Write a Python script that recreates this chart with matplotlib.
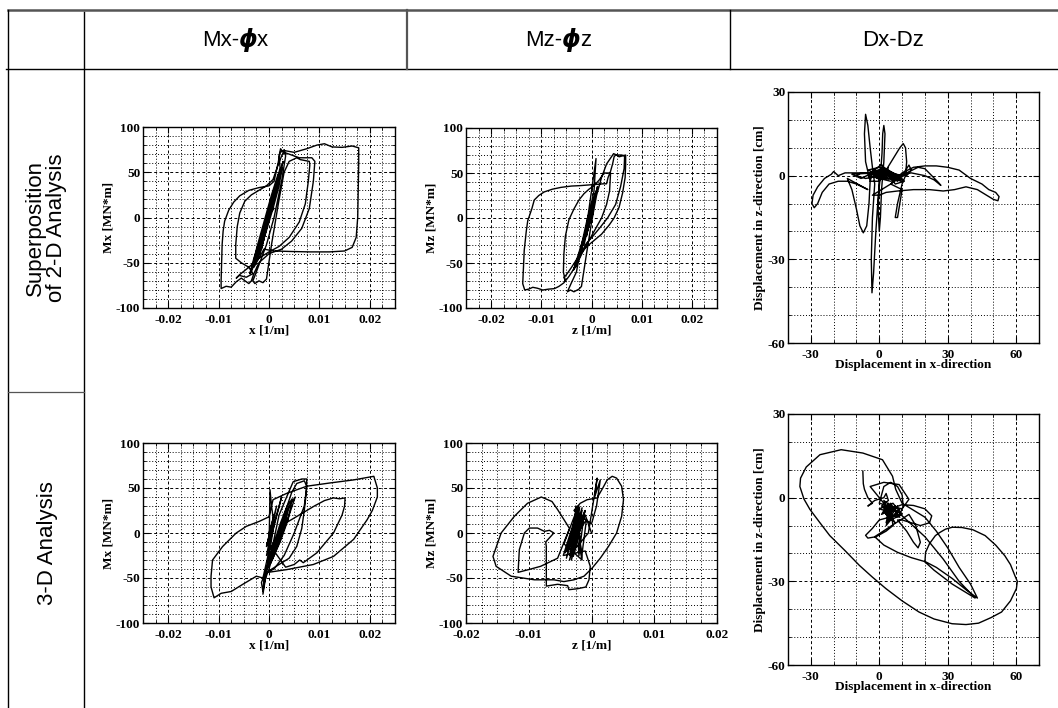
import numpy as np
import matplotlib.pyplot as plt
from matplotlib.ticker import MultipleLocator, FuncFormatter

plt.rcParams['axes.unicode_minus'] = False

# ---- data ----
# curvature values are given in 1e-3 [1/m], moments in MN*m
mx2d_x = [0, 1.0, -0.8, 1.5, -1.2, 2.0, -1.8, 1.2, -1.5, 2.2, 2.0, 2.3, 2.8, 3.0, 3.3,
          2.5, 1.0, -0.5, -1.5, -2.5, -3.2, -2.8, -2.0, -1.2, -0.5, 0.5, 2.0, 3.0, 4.0,
          5.5, 6.2, 8.0, 8.1, 7.8, 7.2, 6.0, 4.0, 2.0, 0.0, -2.0, -4.0, -5.8, -6.5,
          -5.9, -4.5, -3.2, -4.0, -5.5, -6.6, -6.6, -6.3, -5.8, -4.8, -3.5, -2.0, -0.5,
          0.8, 1.8, 2.5, 3.0, 4.0, 6.0, 8.5, 9.1, 8.8, 8.0, 6.5, 4.5, 2.5, 0.0, -2.0,
          -3.0, -3.5, -4.0, -5.5, -6.5, -7.5, -8.5, -9.5, -9.5, -9.4, -9.3, -9.1, -8.8,
          -8.0, -7.0, -5.8, -4.0, -2.0, 0.0, 1.0, 1.8, 2.2, 3.0, 5.0, 7.5, 9.5, 11.0,
          12.5, 14.5, 16.5, 17.8, 17.8, 17.7, 17.6, 17.3, 16.5, 15.0, 12.0, 8.0, 4.0,
          1.0, -1.0, -3.0, -2.0, 0.0, 1.5, 2.6, 2.0, 0.8, -0.8, -2.5, -3.5, -2.5, -1.0,
          0.5, 1.8, 1.2, 0.0, -1.5, -2.8, -1.8, -0.3, 1.0, 2.2, 1.5, 0.2, -1.2, -2.2,
          -1.3, 0.2, 1.4, 2.8, 2.0, 0.5, -1.8, -3.8, -3.0, -1.2, 0.6, 1.9, 1.0, -0.5,
          -2.0, -1.0, 0.3, 1.0]
mx2d_y = [0, 22, -18, 35, -28, 48, -40, 30, -35, 55, 68, 76, 72, 75, 68,
          40, 0, -30, -45, -60, -70, -73, -70, -72, -68, -30, 20, 50, 62,
          66, 64, 62, 58, 40, 15, -5, -22, -32, -38, -45, -55, -63, -67,
          -64, -66, -62, -55, -50, -45, -30, -10, 5, 18, 25, 30, 35,
          42, 58, 68, 72, 70, 66, 66, 62, 40, 10, -12, -26, -35, -40, -50,
          -62, -70, -73, -67, -71, -77, -76, -78.5, -70, -50, -30, -15, -4,
          8, 17, 24, 30, 33, 35, 40, 60, 72, 74, 72, 76, 80, 81.5,
          78, 77.5, 79, 77, 60, 30, 0, -22, -33, -37, -38, -38, -37.5,
          -37, -35, -55, -30, 0, 30, 55, 35, 10, -20, -45, -60, -35, -5,
          25, 48, 28, 0, -30, -52, -25, 5, 30, 52, 30, 5, -25, -45,
          -20, 10, 35, 62, 45, 15, -30, -62, -45, -15, 20, 45, 25, -10,
          -40, -20, 5, 10]

mz2d_x = [0, 0.8, -1.0, 1.2, -1.5, 0.9, 0.5, -2.0, 0.3, -2.5, -3.0, -4.0, -4.8,
          -4.2, -3.5, -2.5, -2.0, -1.0, 0.0, 1.0, 2.0, 3.0, 4.4, 5.0, 5.5, 6.8,
          6.8, 6.7, 6.2, 5.5, 4.5, 3.5, 2.0, 0.5, -1.0, -2.5, -4.0, -5.0, -5.5,
          -5.2, -5.6, -5.5, -5.2, -4.5, -3.5, -2.5, -1.5, -0.5, 0.5, 1.5, 2.5,
          3.8, 3.6, 3.0, 2.0, 1.0, 0.0, -1.5, -3.0, -4.5, -5.5, -6.5, -7.4, -8.5,
          -9.7, -10.8, -11.7, -12.5, -13.3, -13.7, -13.6, -13.4, -13.0, -12.7,
          -11.9, -11.4, -10.5, -9.4, -7.8, -6.1, -4.0, -2.2, 0.0, 2.4, 3.0, 3.3,
          3.8, 4.2, 4.5, 4.8, 6.0, 6.6, 6.5, 5.8, 4.8, 3.2, 1.5, 0.0, -1.0,
          -2.0, -3.2, -2.2, -0.8, 0.4, 0.9, 0.2, -1.0, -2.4, -3.6, -2.6, -1.2, 0.0,
          0.7, 0.1, -1.4, -2.8, -1.9, -0.6, 0.6, -0.3, -1.8, -3.0, -2.0, -0.5, 0.5,
          -0.6, -2.2, -3.4, -1.5, 0.2, 0.8, -0.8, -2.6, -1.2, 0.3]
mz2d_y = [0, 25, -20, 35, -30, 66, 30, -35, 20, -45, -60, -72, -82,
          -80, -82, -79, -76, -40, -5, 25, 45, 60, 71.5, 70, 68, 70,
          60, 45, 28, 12, 0, -8, -18, -25, -32, -42, -55, -63, -66,
          -70, -60, -40, -20, -2, 10, 20, 27, 32, 36, 42, 50,
          50, 30, 15, 0, -10, -20, -35, -52, -65, -72, -76, -78.5, -79,
          -80, -78, -77, -79, -80, -73, -60, -36, -15, -3,
          10, 20, 25, 29, 32, 34, 35.5, 36, 37, 38, 38, 45,
          52, 60, 68, 70, 70, 69, 55, 35, 15, 0, -12, -22, -28,
          -38, -55, -35, -10, 15, 30, 12, -15, -40, -58, -40, -15, 5,
          25, 8, -20, -48, -30, -5, 20, 2, -30, -52, -35, -8, 15,
          -5, -38, -56, -25, 10, 28, 0, -45, -20, 5]

dxdz2d_x = [0, 2, -1, 3, -2, 4, 1, -3, -4, -6, -6.5, -6, -5, -4, -3, -2, -3, -3.5,
            -3.2, -2.5, -1.5, -0.5, 0.5, 1.2, 1.5, 2, 2.5, 2, 1, 0.5, 0, -0.5, 0,
            -5, -10, -15, -18, -20, -21, -24, -27, -29, -29.5, -28.5, -27, -25, -22,
            -18, -14, -10, -5, -14, -12, -10, -8.5, -7, -5.5, -4.5, -4, 0, 3, 6, 9,
            10.5, 11.5, 12, 11.5, 10, 8, 7, 8, 9, 10, 5, 10, 15, 20, 25, 30, 35,
            40, 45, 48, 51, 52.5, 52, 50, 47, 43, 38, 33, 28, 22, 15, 8, 3, 0, -3,
            5, 12, 17, 20, 23, 26, 27, 24, 20, 14, 8, 10, 13, 14, 12, 2, 6, 3, 8,
            4, 9, 5, -2, 0, 4, 2, 7, 10, 5, -8, -10, -6, 1, -5, 0, 5, 10, 5, 0,
            -5, 3, 8, -2, -12, -8, 2, 6, 11, 7, 1, -4, 4, 9, 3, -1]
dxdz2d_y = [0, 1, -1, 2, 0, -1, 2, 1, -2, 5, 15, 22, 18, 10, 3, -3, -15, -30,
            -42, -35, -20, -8, 0, 8, 15, 18, 15, 5, -5, -15, -20, -12, 0,
            1, 1, 1, 0, 1.5, 0.5, -1, -4, -7, -10, -11.5, -10, -6, -3,
            -2, -2, -3, -5, -1, -5, -12, -18, -20.5, -18, -10, -2, -2, 2, 6, 10,
            11.5, 10, 5, 0, -3, -10, -15, -15, -10, -5, -3, 1, 3, 3.5, 3.5, 3, 2,
            -1, -3, -5, -6, -7.5, -9, -8.5, -7, -5, -4, -5, -5.5, -5, -5, -5.5, -6, -7, -7,
            -3, 1, 3, 2.5, 0, -2.5, -3.5, -1.5, 0, 1, 0, 0, 3.8, 2, 0, 1, -1, 2, -2,
            0, -1, 1, 2, -2, 3, -1, -1.5, -2, 0, 1, 0, -1, 0, 2, 3, 1, -1, -2, -1,
            0, 2, 0, 1, 0.5, -1, 3, 1, -2, -3, 4, 1, -1, 0, 2, 1]

mx3d_x = [0, 1, -0.5, 1.5, -0.5, 2.5, 0, 0, 0.2, 0.5, 1, -1.2, -1.0, 0.5, 2, 3.5,
          4.8, 6.5, 7.5, 7.4, 7, 6.5, 5.5, 4, 2, 0, -1, -1.5, -1.2, -0.8, 0, 1.5,
          3, 4.5, 5.5, 7, 7.5, 7, 5, 3, 1, -0.5, -1.2, -2.5, -5.2, -7.5, -9.5,
          -10.9, -11.5, -11.5, -11.2, -9.2, -6.5, -4.5, -1.9, 0, 0.8, 3.5, 7.5, 12.1,
          16.8, 20.8, 21.5, 21.5, 20.5, 19.5, 16.8, 12.8, 8.8, 3.5, -0.5, -1.2, 0,
          3, 6, 9, 11, 12.8, 14, 15.1, 15, 14.5, 12.8, 9.5, 6.8, 6.1, 5, 3.3, 1,
          2.5, 4, 3.2, 1.5, 0, -0.8, 0.5, 2.2, 3.6, 4.6, 3.8, 2.2, 0.6, -0.4, 1.0,
          2.8, 4.2, 5.2, 4.0, 2.4, 0.8, 0.2, 1.8, 3.4, 2.6, 1.2, 0.2, 2.0, 3.0]
mx3d_y = [0, 20, -15, 30, -25, 40, -10, -20, 48, 30, 10, -68, -50, -20, 20, 40,
          57, 60, 60, 45, 25, 5, -15, -28, -35, -42, -48, -55, -65, -52, -40, -10,
          20, 45, 55, 58, 52, 30, 0, -25, -40, -44, -50, -48, -57, -65, -67,
          -72, -60, -48, -30, -15, 0, 7.4, 13, 18, 37, 44, 52, 55.6,
          59, 63, 50, 40, 25, 15, -7, -26, -35, -40.7, -44, -50, -20,
          10, 20, 30, 36, 39, 38, 39, 30, 20, 0, -22, -33, -30, -35, -38, -20,
          5, 30, 10, -15, -35, -45, -20, 10, 30, 38, 15, -10, -30, -40, -15,
          15, 32, 40, 20, -5, -28, -35, -5, 20, 5, -20, -32, 0, 15]

mz3d_x = [0, -1, -3, -1.5, -3.5, -0.5, 0.9, 0.5, 1.4, 0.8, 0, -2.8, -1.8, -0.7, 0.9,
          1.8, 2.5, 3.3, 4.0, 4.8, 5.1, 4.8, 4.0, 2.7, 1.4, 0.1, -1.2, -2.8, -4.4,
          -6.0, -9.1, -12.8, -15.2, -15.7, -14.4, -12.3, -10.2, -8.0, -6.3, -5.4,
          -4.4, -3.5, -5.4, -8.1, -10.2, -11.7, -11.5, -10.7, -9.9, -8.6, -7.5,
          -6.7, -6.0, -7.3, -7.2, -7.2, -5.4, -3.8, -3.6, -2.3, -0.9, -0.4, -0.2,
          -1.0, -4.5, -2.0, -4.0, -1.5, -3.5, -1.0, -3.0, -2.5, -2.0, -1.2, -3.8,
          -2.2, -1.6, -0.8, -4.2, -1.8, -3.2, -1.4, -2.6, -3.4, -1.9, -2.9, -1.1,
          -3.6, -2.4, -1.5, -4.4, -2.1, -2.8, -1.3, -3.9, -2.6]
mz3d_y = [0, 20, -20, 25, -25, 0, 61, 40, 59, 30, 10, 25, 33, 37, 39,
          50, 59, 63, 61, 52, 37, 18.5, 0, -15, -28, -39, -48, -52, -54,
          -52, -52, -48, -37, -26, 0, 18.5, 33, 40, 35, 26,
          15, 5, -28, -37, -41, -43.7, -18.5, 0, 5.5, 5.5, 1.8,
          3, 0, -10, -15, -59, -57, -58.5, -63, -62, -60, -52, -37,
          -20, -25, 30, -28, 28, -30, 25, -20, 30, -25, 20, -15,
          27, -28, 15, -22, 22, -30, 18, -5, -24, 28, -26, 24,
          -18, 26, -30, -12, 30, -22, 20, -20, 0]

dxdz3d_x = [-7.2, -7, -6.5, -5, -3, -5, -2, 2, 3, 4, 1, 5, 3, 6, 2, 7, 4, 8, 5, 3, 9,
            0, 2, 5, 8, 10, 10.5, 9, 0, -3, -6, -5, -1.4, 3, 6, 5, 10, 15, 20, 23,
            22, 18, 14, 10, 8, 12, 15, 17, 18, 16, 13, -2, 2, 8, 14, 20.3, 25, 32,
            38, 43, 40, 35, 30, 25, 20, 10, 7.2, 5.8, 1.4, -7.2, -16.7, -26, -32,
            -34.5, -34.8, -33, -30.4, -26, -21.7, -15, -8.7, -3, 2.9, 10, 17.4, 24,
            31.9, 38, 43.5, 49, 53.6, 57.5, 60.1, 60.5, 59.4, 57.5, 55, 51, 46.4,
            41, 36.2, 32, 29, 26.5, 24.6, 22, 20.3, 20, 24, 32, 38, 42, 35, 28,
            20, 12, 8, 4, -4, 2, 8.7, 13, 10, 4, 5, 8, 4, 2, 7, 3, 9, 4, 1, 6, 3,
            8, 2, 5, 10, 6, 0, 4, 6, 3]
dxdz3d_y = [9.5, 5, 3, 0, -2, -3, -1, 0, 1.5, -1, -3, -6, -4, -8, -5, -3, -7, -6, -2, -9, -4,
            -2, 4, 5.5, 4, 1, -3, -6, -8, -11, -13.5, -14.5, -14, -12, -10, -4, -2.5, -2.8, -4, -6.5,
            -9, -10, -9, -8, -8, -12, -16, -18, -16, -10, -6, -14, -17, -19.6, -21.5, -23, -25, -29,
            -33, -36, -31, -25, -18, -12, -7, -2, 3, 7.7, 13.6, 16, 17.2, 15.4, 11,
            7, 4, -0.5, -4.2, -9, -13.6, -19, -24.3, -28.5, -32.6, -37, -41, -43.5,
            -45.2, -45.5, -45, -43, -41, -37, -32.6, -30, -27.9, -24, -20.8, -17, -13.6,
            -11.5, -10.7, -10.6, -11.3, -12.5, -13.6, -16.5, -19.6, -23, -26, -31, -34, -36, -30, -22,
            -14, -8, -5, -4, 4, 5.5, 4.7, -0.6, -4, -3, -5, -3, -8, -3, -9, -6, -7, -2, -6, -4, -10,
            -5, -1, -8, -6, -2, -4, -5, -4, -6]

col_titles = ['Mx-', 'Mz-', 'Dx-Dz']
row_titles = ['Superposition\nof 2-D Analysis', '3-D Analysis']

W, H = 1058, 708
fig = plt.figure(figsize=(W / 100, H / 100), dpi=100)

# table frame drawn in pixel coordinates
bg = fig.add_axes([0, 0, 1, 1])
bg.set_xlim(0, W)
bg.set_ylim(H, 0)
bg.axis('off')
bg.plot([8, W], [10, 10], color='#555555', lw=1.8)
bg.plot([6, W], [69, 69], color='black', lw=1.0)
bg.plot([8, 8], [10, H], color='black', lw=1.0)
bg.plot([84, 84], [12, H], color='black', lw=1.0)
bg.plot([407, 407], [10, 69], color='#555555', lw=1.6)
bg.plot([730, 730], [10, 69], color='black', lw=1.0)
bg.plot([8, 84], [392, 392], color='#555555', lw=0.9)

hfont = dict(family='Liberation Sans', fontsize=16, va='center')
for cx, name, sub in [(239, col_titles[0], 'x'), (562, col_titles[1], 'z')]:
    bg.text(cx, 40, name, ha='right', **hfont)
    bg.text(cx + 9, 40, '\u03d5', ha='center', va='center', fontsize=17,
            family='DejaVu Sans', fontweight='bold', fontstyle='italic')
    bg.text(cx + 18, 40, sub, ha='left', **hfont)
bg.text(893, 40, col_titles[2], ha='center', **hfont)
bg.text(46, 228, row_titles[0], ha='center', va='center', rotation=90,
        multialignment='center', family='Liberation Sans', fontsize=16,
        linespacing=1.0)
bg.text(47, 543, row_titles[1], ha='center', va='center', rotation=90,
        family='Liberation Sans', fontsize=16)


def rect(l, r, t, b):
    return [l / W, (H - b) / H, (r - l) / W, (b - t) / H]


tfont = dict(family='Liberation Serif', fontweight='bold', fontsize=9.5)
fmt = FuncFormatter(lambda v, p: '%g' % (round(v, 4) + 0.0))


def style(ax, xmaj, xmin, ymaj, ymin):
    ax.xaxis.set_major_locator(MultipleLocator(xmaj))
    ax.xaxis.set_minor_locator(MultipleLocator(xmin))
    ax.yaxis.set_major_locator(MultipleLocator(ymaj))
    ax.yaxis.set_minor_locator(MultipleLocator(ymin))
    ax.xaxis.set_major_formatter(fmt)
    ax.yaxis.set_major_formatter(fmt)
    ax.grid(True, which='major', color='black', ls=(0, (3, 2.5)), lw=0.7)
    ax.grid(True, which='minor', color='black', ls=(0, (1, 2)), lw=0.7)
    ax.tick_params(which='both', direction='in', top=True, right=True)
    ax.tick_params(axis='x', pad=4)
    ax.tick_params(axis='y', pad=2)
    ax.tick_params(which='major', length=4, width=0.8)
    ax.tick_params(which='minor', length=2, width=0.6)
    for lab in ax.get_xticklabels() + ax.get_yticklabels():
        lab.set_fontfamily('Liberation Serif')
        lab.set_fontweight('bold')
        lab.set_fontsize(9.5)
    for s in ax.spines.values():
        s.set_linewidth(1.0)


panels = [
    (rect(143, 395, 127, 308), mx2d_x, mx2d_y, 1e-3, (-0.025, 0.025), 'x [1/m]', 'Mx [MN*m]'),
    (rect(466, 717, 128, 308), mz2d_x, mz2d_y, 1e-3, (-0.025, 0.025), 'z [1/m]', 'Mz [MN*m]'),
    (rect(143, 395, 443, 623), mx3d_x, mx3d_y, 1e-3, (-0.025, 0.025), 'x [1/m]', 'Mx [MN*m]'),
    (rect(466, 717, 443, 623), mz3d_x, mz3d_y, 1e-3, (-0.02, 0.02), 'z [1/m]', 'Mz [MN*m]'),
]
for r, xs, ys, sc, xl, xlab, ylab in panels:
    ax = fig.add_axes(r)
    ax.plot(np.array(xs) * sc, ys, color='black', lw=1.0)
    ax.set_xlim(*xl)
    ax.set_ylim(-100, 100)
    style(ax, 0.01, 0.0025, 50, 10)
    ax.set_xlabel(xlab, labelpad=-1, **tfont)
    ax.set_ylabel(ylab, labelpad=1, **tfont)

for r, xs, ys in [(rect(788, 1039, 92, 343), dxdz2d_x, dxdz2d_y),
                  (rect(788, 1039, 414, 665), dxdz3d_x, dxdz3d_y)]:
    ax = fig.add_axes(r)
    ax.plot(xs, ys, color='black', lw=1.0)
    ax.set_xlim(-40, 70)
    ax.set_ylim(-60, 30)
    style(ax, 30, 10, 30, 10)
    ax.set_xlabel('Displacement in x-direction', labelpad=-1, **tfont)
    ax.set_ylabel('Displacement in z-direction [cm]', labelpad=1, **tfont)

fig.savefig('out.png', dpi=100)
